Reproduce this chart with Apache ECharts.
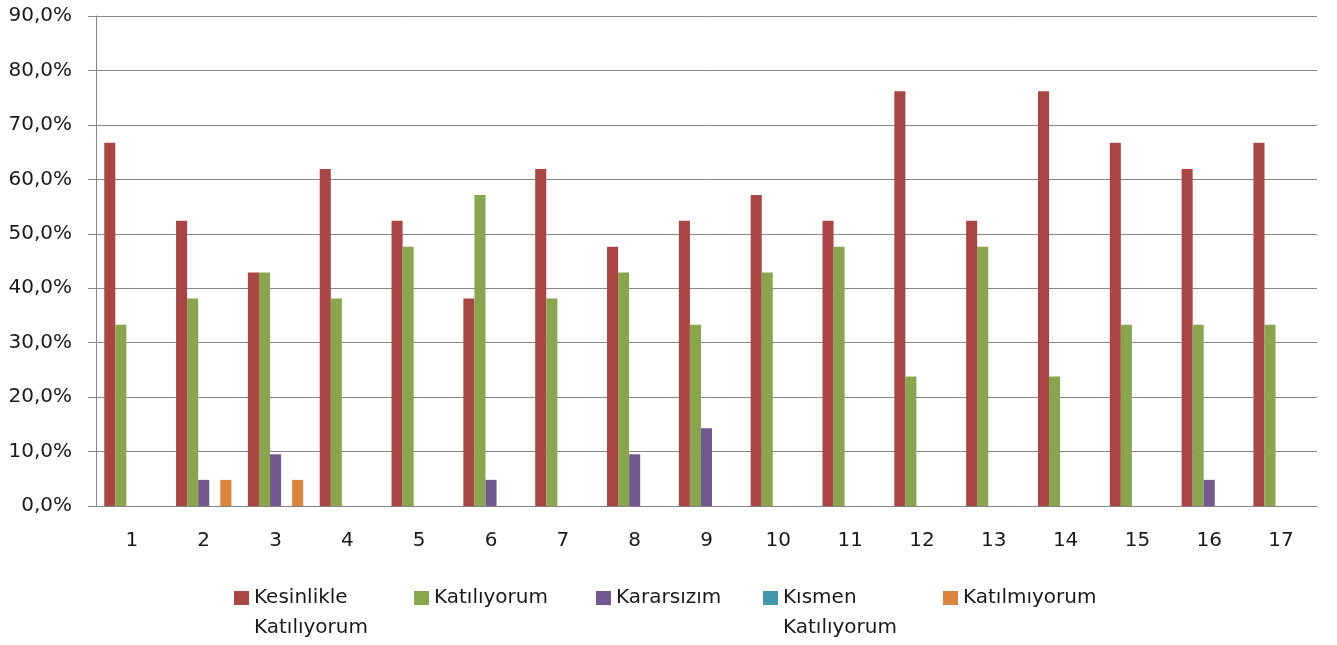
<!DOCTYPE html>
<html>
<head>
<meta charset="utf-8">
<script src="https://cdn.jsdelivr.net/npm/echarts@6/dist/echarts.min.js"></script>
<style>
  html, body { margin: 0; padding: 0; background: #fff; }
  #chart { width: 1337px; height: 645px; }
</style>
</head>
<body>
<div id="chart"></div>
<script>
const categories = ['1', '2', '3', '4', '5', '6', '7', '8', '9', '10', '11', '12', '13', '14', '15', '16', '17'];
const seriesNames = ['Kesinlikle Katılıyorum', 'Katılıyorum', 'Kararsızım', 'Kısmen Katılıyorum', 'Katılmıyorum'];
const kesinlikle = [66.7, 52.4, 42.9, 61.9, 52.4, 38.1, 61.9, 47.6, 52.4, 57.1, 52.4, 76.2, 52.4, 76.2, 66.7, 61.9, 66.7];
const katiliyorum = [33.3, 38.1, 42.9, 38.1, 47.6, 57.1, 38.1, 42.9, 33.3, 42.9, 47.6, 23.8, 47.6, 23.8, 33.3, 33.3, 33.3];
const kararsizim = [0, 4.8, 9.5, 0, 0, 4.8, 0, 9.5, 14.3, 0, 0, 0, 0, 0, 0, 4.8, 0];
const kismen = [0, 0, 0, 0, 0, 0, 0, 0, 0, 0, 0, 0, 0, 0, 0, 0, 0];
const katilmiyorum = [0, 4.8, 4.8, 0, 0, 0, 0, 0, 0, 0, 0, 0, 0, 0, 0, 0, 0];
const yTicks = [0, 10, 20, 30, 40, 50, 60, 70, 80, 90];

const colors = ['#A94543', '#89A54E', '#71588F', '#4198AF', '#DB843D'];
const legendLeft = [234, 414, 596, 763, 943];
const font = 'DejaVu Sans';
const textColor = '#1a1a1a';

const chart = echarts.init(document.getElementById('chart'));

const allData = [kesinlikle, katiliyorum, kararsizim, kismen, katilmiyorum];

// three text lines per item, so the first real line sits level with the icon
const wrapName = (n) => {
  const parts = n.split(' ');
  return parts.length > 1 ? ' \n' + parts[0] + '\n' + parts.slice(1).join(' ') : ' \n' + n + '\n ';
};

chart.setOption({
  animation: false,
  color: colors,
  grid: { left: 96, right: 20, top: 16, bottom: 139 },
  legend: seriesNames.map((name, i) => ({
    data: [name],
    left: legendLeft[i],
    top: 553,
    padding: 0,
    selectedMode: false,
    icon: 'rect',
    itemWidth: 15,
    itemHeight: 14,
    itemGap: 6,
    formatter: wrapName,
    textStyle: {
      fontFamily: font,
      fontSize: 20,
      color: textColor,
      lineHeight: 30,
    },
  })),
  xAxis: {
    type: 'category',
    data: categories,
    axisLine: { lineStyle: { color: '#868686', width: 1 } },
    axisTick: { length: 8, lineStyle: { color: '#868686' } },
    axisLabel: { fontFamily: font, fontSize: 20, color: textColor, margin: 25 },
  },
  yAxis: {
    type: 'value',
    min: yTicks[0],
    max: yTicks[yTicks.length - 1],
    interval: 10,
    axisLine: { show: true, lineStyle: { color: '#868686', width: 1 } },
    axisTick: { show: true, length: 8, lineStyle: { color: '#868686' } },
    splitLine: { lineStyle: { color: '#868686', width: 1 } },
    axisLabel: {
      fontFamily: font,
      fontSize: 20,
      color: textColor,
      margin: 24,
      formatter: v => v.toFixed(1).replace('.', ',') + '%',
    },
  },
  series: seriesNames.map((name, i) => ({
    name,
    type: 'bar',
    data: allData[i],
    barGap: '0%',
    barCategoryGap: '23%',
  })),
});
</script>
</body>
</html>
